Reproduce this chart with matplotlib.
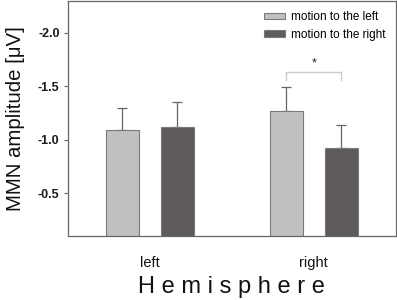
import matplotlib
matplotlib.use("Agg")
import matplotlib.pyplot as plt
from matplotlib.patches import Patch
import numpy as np

plt.rcParams['font.family'] = ['Liberation Sans', 'DejaVu Sans']

hemispheres = ["left", "right"]
motion_left = [-1.09, -1.27]
motion_left_err = [0.21, 0.22]
motion_right = [-1.12, -0.925]
motion_right_err = [0.23, 0.215]
series_names = ["motion to the left", "motion to the right"]

light = "#c0c0c0"
dark = "#5f5b5b"
edge = "#7a7a7a"

fig = plt.figure(figsize=(3.97, 3.0), dpi=100)
ax = fig.add_axes([0.171, 0.213, 0.826, 0.785])

x = np.arange(len(hemispheres))
off = 0.168
w = 0.2
ax.bar(x - off, motion_left, w, color=light, edgecolor=edge, linewidth=0.8, zorder=2)
ax.bar(x + off, motion_right, w, color=dark, edgecolor=edge, linewidth=0.8, zorder=2)
ekw = dict(ecolor="#666666", elinewidth=0.9, capsize=3.5, capthick=0.9, fmt="none", zorder=1)
ax.errorbar(x - off, motion_left, yerr=[motion_left_err, np.zeros(2)], **ekw)
ax.errorbar(x + off, motion_right, yerr=[motion_right_err, np.zeros(2)], **ekw)

ax.set_ylim(-0.1, -2.3)
ax.set_xlim(-0.5, 1.5)
ax.set_yticks([-2.0, -1.5, -1.0, -0.5])
ax.set_yticklabels(["-2.0", "-1.5", "-1.0", "-0.5"], fontsize=9, fontweight="bold", color="#1a1a1a")
ax.tick_params(axis="y", length=3, width=0.8, color="#666666", pad=3)
ax.set_xticks(x)
ax.set_xticklabels(hemispheres, fontsize=10.5, color="#111111")
ax.tick_params(axis="x", length=0, pad=14)
for s in ax.spines.values():
    s.set_color("#666666")
    s.set_linewidth(0.9)

ax.set_ylabel("MMN amplitude [μV]", fontsize=14.7, color="#111111", labelpad=9)
ax.set_xlabel("H e m i s p h e r e", fontsize=17, color="#111111", labelpad=5)

# significance bracket
bx0 = x[1] - off
bx1 = x[1] + off
ax.plot([bx0, bx0, bx1, bx1], [-1.56, -1.635, -1.635, -1.56], color="#cccccc", lw=1.0, zorder=3)
ax.text(x[1], -1.66, "*", ha="center", va="bottom", fontsize=9, color="#222222")

handles = [Patch(facecolor=light, edgecolor=edge, linewidth=0.8),
           Patch(facecolor=dark, edgecolor=edge, linewidth=0.8)]
ax.legend(handles, series_names, loc="upper right", frameon=False, fontsize=8.5,
          handlelength=1.8, handleheight=0.45, handletextpad=0.5, labelspacing=0.45,
          bbox_to_anchor=(1.0, 1.0), borderaxespad=0.5)

fig.savefig("out.png", dpi=100)
